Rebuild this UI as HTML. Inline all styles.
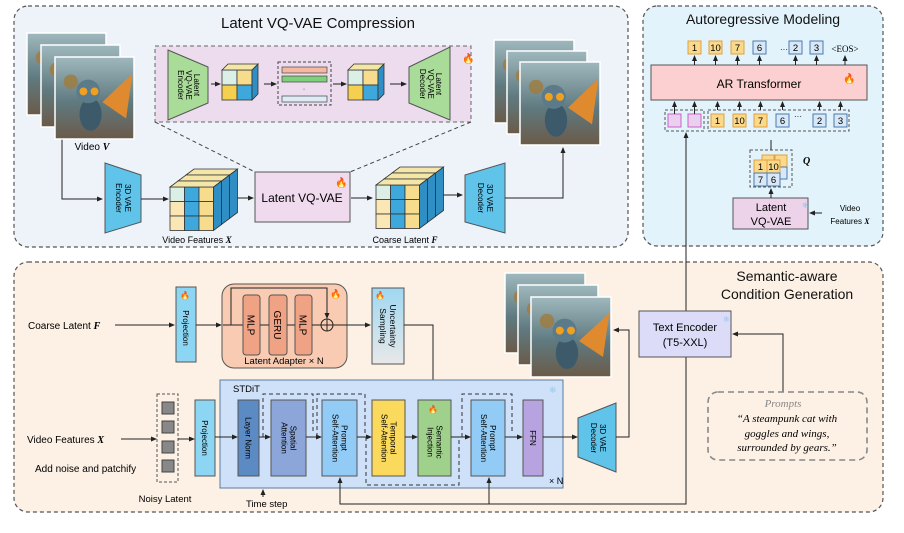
<!DOCTYPE html>
<html><head><meta charset="utf-8">
<style>
html,body{margin:0;padding:0;background:#fff;}
svg{display:block;font-family:"Liberation Sans",sans-serif;}
</style></head>
<body>
<svg id="s" width="904" height="533" viewBox="0 0 904 533" xmlns="http://www.w3.org/2000/svg">
<defs>
<marker id="a" markerWidth="6" markerHeight="6" refX="5" refY="3" orient="auto" markerUnits="userSpaceOnUse"><path d="M0,0.5 L6,3 L0,5.5z" fill="#222"/></marker>
<linearGradient id="img" x1="0" y1="0" x2="0" y2="1"><stop offset="0" stop-color="#9fb8bd"/><stop offset="0.55" stop-color="#5f7a80"/><stop offset="1" stop-color="#6b5a48"/></linearGradient>
<linearGradient id="unc" x1="0" y1="0" x2="0" y2="1"><stop offset="0" stop-color="#9fd8f2"/><stop offset="1" stop-color="#e8e8e8"/></linearGradient>
</defs>
<!-- panels -->
<rect x="14" y="6" width="614" height="241" rx="14" fill="#eef3fa" stroke="#555" stroke-dasharray="4,3" stroke-width="1.2"/>
<rect x="643" y="6" width="240" height="240" rx="14" fill="#e2f3fb" stroke="#555" stroke-dasharray="4,3" stroke-width="1.2"/>
<rect x="14" y="262" width="869" height="250" rx="14" fill="#fdf1e5" stroke="#555" stroke-dasharray="4,3" stroke-width="1.2"/>
<text x="318" y="28" font-size="15" text-anchor="middle" fill="#111">Latent VQ-VAE Compression</text>
<text x="763" y="24" font-size="14" text-anchor="middle" fill="#111">Autoregressive Modeling</text>
<text x="787" y="281" font-size="14" text-anchor="middle" fill="#111">Semantic-aware</text>
<text x="787" y="299" font-size="14" text-anchor="middle" fill="#111">Condition Generation</text>
<g id="dyn"></g>

<!-- Top-left -->
<rect x="155" y="46" width="316" height="76" fill="#ecdcee" stroke="#666" stroke-dasharray="4,3"/>
<line x1="155" y1="122" x2="255" y2="172" stroke="#444" stroke-dasharray="4,3"/>
<line x1="471" y1="122" x2="350" y2="172" stroke="#444" stroke-dasharray="4,3"/>
<polygon points="168,50 208,67 208,103 168,120" fill="#a9dc98" stroke="#555"/>
<text transform="translate(188,85) rotate(90)" font-size="8" text-anchor="middle"><tspan x="0" dy="-6">Latent</tspan><tspan x="0" dy="8">VQ-VAE</tspan><tspan x="0" dy="8">Encoder</tspan></text>
<polygon points="409,67 450,47 450,120 409,103" fill="#a9dc98" stroke="#555"/>
<text transform="translate(430,84) rotate(90)" font-size="8" text-anchor="middle"><tspan x="0" dy="-6">Latent</tspan><tspan x="0" dy="8">VQ-VAE</tspan><tspan x="0" dy="8">Decoder</tspan></text>
<rect x="278" y="62" width="53" height="43" fill="none" stroke="#444" stroke-dasharray="3,2"/>
<rect x="282" y="67" width="45" height="6" fill="#f4b9a0" stroke="#444" stroke-width=".7"/>
<rect x="282" y="76" width="45" height="6" fill="#7fd07a" stroke="#444" stroke-width=".7"/>
<text x="304" y="91" font-size="7" text-anchor="middle">·</text>
<rect x="282" y="96" width="45" height="6" fill="#dcebf5" stroke="#444" stroke-width=".7"/>
<line x1="211" y1="84" x2="220" y2="84" stroke="#222" marker-end="url(#a)"/>
<line x1="264" y1="84" x2="276" y2="84" stroke="#222" marker-end="url(#a)"/>
<line x1="333" y1="84" x2="346" y2="84" stroke="#222" marker-end="url(#a)"/>
<line x1="390" y1="84" x2="406" y2="84" stroke="#222" marker-end="url(#a)"/>
<text x="462" y="62" font-size="10" fill="#f06020">🔥</text>

<text x="92" y="150" font-size="10" text-anchor="middle">Video <tspan font-family="Liberation Serif" font-style="italic" font-weight="bold">V</tspan></text>
<polyline points="62,137 62,199 102,199" fill="none" stroke="#222" marker-end="url(#a)"/>
<polygon points="105,163 141,175 141,222 105,233" fill="#5fc3ea" stroke="#555"/>
<text transform="translate(123,198) rotate(90)" font-size="8" text-anchor="middle"><tspan x="0" dy="-2">3D VAE</tspan><tspan x="0" dy="9">Encoder</tspan></text>
<line x1="141" y1="199" x2="168" y2="199" stroke="#222" marker-end="url(#a)"/>
<text x="197" y="243" font-size="9" text-anchor="middle">Video Features <tspan font-family="Liberation Serif" font-style="italic" font-weight="bold">X</tspan></text>
<line x1="236" y1="198" x2="253" y2="198" stroke="#222" marker-end="url(#a)"/>
<rect x="255" y="172" width="95" height="50" fill="#f0dbee" stroke="#555"/>
<text x="302" y="202" font-size="12" text-anchor="middle">Latent VQ-VAE</text>
<text x="335" y="186" font-size="10">🔥</text>
<line x1="351" y1="198" x2="372" y2="198" stroke="#222" marker-end="url(#a)"/>
<text x="405" y="243" font-size="9" text-anchor="middle">Coarse Latent <tspan font-family="Liberation Serif" font-style="italic" font-weight="bold">F</tspan></text>
<line x1="441" y1="195" x2="462" y2="195" stroke="#222" marker-end="url(#a)"/>
<polygon points="465,175 505,163 505,233 465,222" fill="#5fc3ea" stroke="#555"/>
<text transform="translate(485,198) rotate(90)" font-size="8" text-anchor="middle"><tspan x="0" dy="-2">3D VAE</tspan><tspan x="0" dy="9">Decoder</tspan></text>
<polyline points="505,198 563,198 563,148" fill="none" stroke="#222" marker-end="url(#a)"/>

<!-- Top-right -->
<rect x="651" y="65" width="216" height="35" fill="#fcd0d0" stroke="#555"/>
<text x="759" y="88" font-size="12" text-anchor="middle">AR Transformer</text>
<text x="843" y="82" font-size="10">🔥</text>
<rect x="665" y="110" width="39" height="21" fill="none" stroke="#555" stroke-dasharray="3,2"/>
<rect x="668" y="114" width="13" height="13" fill="#e8d0ee" stroke="#d060c8"/>
<rect x="688" y="114" width="13" height="13" fill="#e8d0ee" stroke="#d060c8"/>
<rect x="708" y="110" width="141" height="21" fill="none" stroke="#555" stroke-dasharray="3,2"/>
<rect x="750" y="150" width="42" height="37" fill="none" stroke="#555" stroke-dasharray="3,2"/>
<text x="803" y="164" font-size="10" font-family="Liberation Serif" font-style="italic" font-weight="bold">Q</text>
<rect x="733" y="198" width="75" height="31" fill="#ecd3ea" stroke="#555"/>
<text x="771" y="211" font-size="11" text-anchor="middle">Latent</text>
<text x="771" y="225" font-size="11" text-anchor="middle">VQ-VAE</text>
<text x="802" y="208" font-size="8" fill="#8cc8ec">❄</text>
<text x="850" y="211" font-size="8" text-anchor="middle">Video</text>
<text x="850" y="224" font-size="8" text-anchor="middle">Features <tspan font-family="Liberation Serif" font-style="italic" font-weight="bold">X</tspan></text>
<line x1="822" y1="213" x2="810" y2="213" stroke="#222" marker-end="url(#a)"/>
<line x1="771" y1="198" x2="771" y2="189" stroke="#222" marker-end="url(#a)"/>
<line x1="771" y1="150" x2="771" y2="140" stroke="#222"/>
<text x="784" y="52" font-size="8" text-anchor="middle">···</text>
<text x="798" y="119" font-size="8" text-anchor="middle">···</text>
<text x="845" y="52" font-size="9" text-anchor="middle" font-family="Liberation Serif">&lt;EOS&gt;</text>

<!-- Bottom -->
<text x="28" y="329" font-size="10">Coarse Latent <tspan font-family="Liberation Serif" font-style="italic" font-weight="bold">F</tspan></text>
<line x1="115" y1="325" x2="174" y2="325" stroke="#222" marker-end="url(#a)"/>
<rect x="176" y="287" width="20" height="75" fill="#8dd6f3" stroke="#555"/>
<text transform="translate(186,328) rotate(90)" font-size="8" text-anchor="middle" dy="3">Projection</text>
<text x="180" y="298" font-size="8">🔥</text>
<line x1="196" y1="325" x2="221" y2="325" stroke="#222" marker-end="url(#a)"/>
<rect x="222" y="284" width="125" height="84" rx="12" fill="#f8cbb2" stroke="#555"/>
<polyline points="231,325 231,288 327,288 327,318" fill="none" stroke="#222" marker-end="url(#a)"/>
<line x1="223" y1="325" x2="243" y2="325" stroke="#222"/>
<rect x="243" y="295" width="17" height="60" rx="3" fill="#f0a285" stroke="#555"/>
<rect x="269" y="295" width="18" height="60" rx="3" fill="#f0a285" stroke="#555"/>
<rect x="295" y="295" width="17" height="60" rx="3" fill="#f0a285" stroke="#555"/>
<text transform="translate(251.5,325) rotate(90)" font-size="10" text-anchor="middle" dy="4">MLP</text>
<text transform="translate(278,325) rotate(90)" font-size="10" text-anchor="middle" dy="4">GERU</text>
<text transform="translate(303.5,325) rotate(90)" font-size="10" text-anchor="middle" dy="4">MLP</text>
<line x1="260" y1="325" x2="269" y2="325" stroke="#222"/>
<line x1="287" y1="325" x2="295" y2="325" stroke="#222"/>
<line x1="312" y1="325" x2="321" y2="325" stroke="#222"/>
<circle cx="327" cy="325" r="6" fill="none" stroke="#222"/>
<line x1="321" y1="325" x2="333" y2="325" stroke="#222"/><line x1="327" y1="319" x2="327" y2="331" stroke="#222"/>
<text x="330" y="297" font-size="9">🔥</text>
<text x="284" y="364" font-size="9.5" text-anchor="middle">Latent Adapter × N</text>
<line x1="333" y1="325" x2="370" y2="325" stroke="#222" marker-end="url(#a)"/>
<rect x="372" y="288" width="32" height="76" fill="url(#unc)" stroke="#555"/>
<text transform="translate(388,326) rotate(90)" font-size="8.5" text-anchor="middle"><tspan x="0" dy="-2">Uncertainty</tspan><tspan x="0" dy="10">Sampling</tspan></text>
<text x="375" y="298" font-size="8">🔥</text>
<polyline points="404,325 433,325 433,397" fill="none" stroke="#222" marker-end="url(#a)"/>

<rect x="220" y="380" width="343" height="108" fill="#cfe1f8" stroke="#5a7aa0"/>
<text x="233" y="392" font-size="9.5">STDiT</text>
<text x="549" y="484" font-size="9">× N</text>
<text x="549" y="393" font-size="9" fill="#9cc8ee">❄</text>
<rect x="157" y="394" width="21" height="88" fill="none" stroke="#555" stroke-dasharray="3,2"/>
<rect x="162" y="402" width="12" height="12" fill="#888" stroke="#444"/>
<rect x="162" y="421" width="12" height="12" fill="#888" stroke="#444"/>
<rect x="162" y="441" width="12" height="12" fill="#888" stroke="#444"/>
<rect x="162" y="460" width="12" height="12" fill="#888" stroke="#444"/>
<text x="165" y="502" font-size="9.5" text-anchor="middle">Noisy Latent</text>
<text x="27" y="443" font-size="10">Video Features <tspan font-family="Liberation Serif" font-style="italic" font-weight="bold">X</tspan></text>
<text x="35" y="472" font-size="10">Add noise and patchify</text>
<line x1="121" y1="439" x2="156" y2="439" stroke="#222" marker-end="url(#a)"/>
<line x1="178" y1="439" x2="194" y2="439" stroke="#222" marker-end="url(#a)"/>
<rect x="195" y="400" width="20" height="76" fill="#8dd6f3" stroke="#555"/>
<text transform="translate(205,438) rotate(90)" font-size="8" text-anchor="middle" dy="3">Projection</text>
<line x1="215" y1="437" x2="237" y2="437" stroke="#222" marker-end="url(#a)"/>
<rect x="238" y="400" width="21" height="76" fill="#5c8bc4" stroke="#555"/>
<text transform="translate(248.5,438) rotate(90)" font-size="8" text-anchor="middle" dy="3">Layer Norm</text>
<line x1="259" y1="437" x2="270" y2="437" stroke="#222" marker-end="url(#a)"/>
<rect x="271" y="400" width="35" height="76" fill="#8ca6da" stroke="#555"/>
<text transform="translate(288.5,438) rotate(90)" font-size="8" text-anchor="middle"><tspan x="0" dy="-2">Spatial</tspan><tspan x="0" dy="9">Attention</tspan></text>
<line x1="306" y1="437" x2="321" y2="437" stroke="#222" marker-end="url(#a)"/>
<rect x="322" y="400" width="35" height="76" fill="#92cbf6" stroke="#555"/>
<text transform="translate(339.5,438) rotate(90)" font-size="8" text-anchor="middle"><tspan x="0" dy="-2">Prompt</tspan><tspan x="0" dy="9">Self-Attention</tspan></text>
<line x1="357" y1="437" x2="371" y2="437" stroke="#222" marker-end="url(#a)"/>
<rect x="372" y="400" width="33" height="76" fill="#fad95c" stroke="#555"/>
<text transform="translate(388.5,438) rotate(90)" font-size="8" text-anchor="middle"><tspan x="0" dy="-2">Temporal</tspan><tspan x="0" dy="9">Self-Attention</tspan></text>
<line x1="405" y1="437" x2="417" y2="437" stroke="#222" marker-end="url(#a)"/>
<rect x="418" y="400" width="33" height="76" fill="#a0d18c" stroke="#555"/>
<text transform="translate(434.5,442) rotate(90)" font-size="8" text-anchor="middle"><tspan x="0" dy="-2">Semantic</tspan><tspan x="0" dy="9">Injection</tspan></text>
<text x="428" y="412" font-size="8">🔥</text>
<line x1="451" y1="437" x2="470" y2="437" stroke="#222" marker-end="url(#a)"/>
<rect x="471" y="400" width="34" height="76" fill="#92cbf6" stroke="#555"/>
<text transform="translate(488,438) rotate(90)" font-size="8" text-anchor="middle"><tspan x="0" dy="-2">Prompt</tspan><tspan x="0" dy="9">Self-Attention</tspan></text>
<line x1="505" y1="437" x2="522" y2="437" stroke="#222" marker-end="url(#a)"/>
<rect x="523" y="400" width="20" height="76" fill="#b6a3df" stroke="#555"/>
<text transform="translate(533,438) rotate(90)" font-size="8" text-anchor="middle" dy="3">FFN</text>
<line x1="543" y1="437" x2="577" y2="437" stroke="#222" marker-end="url(#a)"/>
<g fill="none" stroke="#333" stroke-dasharray="4,3">
<polyline points="263,437 263,394 313,394 313,434"/>
<polyline points="317,437 317,394 365,394 365,434"/>
<polyline points="366,437 366,485 459,485 459,440"/>
<polyline points="462,437 462,394 512,394 512,434"/>
</g>
<polygon points="578,418 616,403 616,472 578,457" fill="#5fc3ea" stroke="#555"/>
<text transform="translate(598,438) rotate(90)" font-size="8" text-anchor="middle"><tspan x="0" dy="-2">3D VAE</tspan><tspan x="0" dy="9">Decoder</tspan></text>
<polyline points="616,437 629,437 629,330 614,330" fill="none" stroke="#222" marker-end="url(#a)"/>
<text x="246" y="507" font-size="9.5">Time step</text>
<line x1="263" y1="497" x2="263" y2="490" stroke="#222" marker-end="url(#a)"/>
<polyline points="340,478 340,504 686,504 686,357" fill="none" stroke="#222"/>
<line x1="340" y1="504" x2="340" y2="478" stroke="#222" marker-end="url(#a)"/>
<line x1="489" y1="504" x2="489" y2="478" stroke="#222" marker-end="url(#a)"/>
<line x1="686" y1="311" x2="686" y2="133" stroke="#222" marker-end="url(#a)"/>
<rect x="639" y="311" width="92" height="46" fill="#dcdcf8" stroke="#555"/>
<text x="685" y="331" font-size="11" text-anchor="middle">Text Encoder</text>
<text x="685" y="346" font-size="11" text-anchor="middle">(T5-XXL)</text>
<text x="723" y="322" font-size="8" fill="#9cc8ee">❄</text>
<polyline points="783,392 783,334 733,334" fill="none" stroke="#222" marker-end="url(#a)"/>
<rect x="708" y="392" width="159" height="68" rx="10" fill="none" stroke="#888" stroke-width="1.6" stroke-dasharray="6,4"/>
<g font-family="Liberation Serif" font-style="italic" text-anchor="middle">
<text x="783" y="407" font-size="11" fill="#888">Prompts</text>
<text x="787" y="422" font-size="11">“A steampunk cat with</text>
<text x="787" y="437" font-size="11">goggles and wings,</text>
<text x="787" y="451" font-size="11">surrounded by gears.”</text>
</g>
</svg>
<script>
var NS="http://www.w3.org/2000/svg",g=document.getElementById("dyn"),root=document.getElementById("s");
function el(t,a,p){var e=document.createElementNS(NS,t);for(var k in a)e.setAttribute(k,a[k]);(p||root).appendChild(e);return e;}
function frame(x,y,w,h){
 el("rect",{x:x,y:y,width:w,height:h,fill:"url(#img)",stroke:"#fff","stroke-width":1.5});
 el("circle",{cx:x+w*0.2,cy:y+h*0.3,r:w*0.09,fill:"#a07a3c",opacity:.8});
 el("polygon",{points:(x+w*0.6)+","+(y+h*0.55)+" "+(x+w*0.98)+","+(y+h*0.2)+" "+(x+w*0.9)+","+(y+h*0.75),fill:"#e08a30"});
 el("ellipse",{cx:x+w*0.45,cy:y+h*0.7,rx:w*0.14,ry:h*0.2,fill:"#3d5a6a"});
 el("circle",{cx:x+w*0.42,cy:y+h*0.42,r:w*0.15,fill:"#5b7b8a"});
 el("circle",{cx:x+w*0.36,cy:y+h*0.42,r:w*0.05,fill:"#f0a020"});
 el("circle",{cx:x+w*0.5,cy:y+h*0.42,r:w*0.05,fill:"#f0a020"});
}
function stack(x,y,w,h,dx,dy){for(var i=0;i<3;i++)frame(x+i*dx,y+i*dy,w,h);}
stack(27,33,79,82,14,12);
stack(494,40,80,83,13,11);
stack(505,273,80,80,13,12);
var C=["#dcefe6","#3ea7dc","#f7dc8d"],C2=["#fbe7b5","#3ea7dc","#f7dc8d"];
function cube(x,y,n,s,layers,dx,dy){
 for(var L=layers-1;L>=0;L--){var ox=x+L*dx,oy=y-L*dy;
  for(var r=0;r<n;r++)for(var c=0;c<n;c++){
   var col=(r==0?C:C2)[c%3]; if(n==2){col=[["#dcefe6","#f7dc8d"],["#f5cf50","#3ea7dc"]][r][c];}
   el("rect",{x:ox+c*s,y:oy+r*s,width:s,height:s,fill:col,stroke:"#333","stroke-width":.8});}
  el("polygon",{points:(ox+n*s)+","+oy+" "+(ox+n*s+dx)+","+(oy-dy)+" "+(ox+n*s+dx)+","+(oy+n*s-dy)+" "+(ox+n*s)+","+(oy+n*s),fill:"#2f8fc4",stroke:"#333","stroke-width":.8});
  el("polygon",{points:ox+","+oy+" "+(ox+dx)+","+(oy-dy)+" "+(ox+n*s+dx)+","+(oy-dy)+" "+(ox+n*s)+","+oy,fill:"#f3e6a8",stroke:"#333","stroke-width":.8});
 }}
cube(170,187,3,14.5,3,8,6);
cube(376,185,3,14.5,3,8,6);
cube(222,70,2,15,1,6,6);
cube(348,70,2,15,1,6,6);
function tok(x,y,t,yel){el("rect",{x:x,y:y,width:13,height:13,fill:yel?"#fbd98a":"#d8e8f6",stroke:yel?"#e0a040":"#4a7ab0"});
 var e=el("text",{x:x+6.5,y:y+10,"font-size":9.5,"text-anchor":"middle"});e.textContent=t;}
var ox=[688,709,731,753,789,810],ix=[711,733,754,776,813,834],tt=["1","10","7","6","2","3"];
for(var i=0;i<6;i++){tok(ox[i],41,tt[i],i<3);tok(ix[i],114,tt[i],i<3);
 el("line",{x1:ox[i]+6.5,y1:65,x2:ox[i]+6.5,y2:56,stroke:"#222","marker-end":"url(#a)"});
 el("line",{x1:ix[i]+6.5,y1:110,x2:ix[i]+6.5,y2:102,stroke:"#222","marker-end":"url(#a)"});}
[674.5,694.5].forEach(function(x){el("line",{x1:x,y1:114,x2:x,y2:102,stroke:"#222","marker-end":"url(#a)"});});
el("line",{x1:845,y1:65,x2:845,y2:56,stroke:"#222","marker-end":"url(#a)"});
el("rect",{x:762,y:155,width:12,height:12,fill:"#fbd98a",stroke:"#e0a040"});
el("rect",{x:775,y:155,width:12,height:12,fill:"#fbd98a",stroke:"#e0a040"});
el("rect",{x:775,y:167,width:12,height:12,fill:"#d8e8f6",stroke:"#4a7ab0"});
tok(754,160,"1",1);tok(767,160,"10",1);tok(754,173,"7",0);tok(767,173,"6",0);
</script>
</body></html>
